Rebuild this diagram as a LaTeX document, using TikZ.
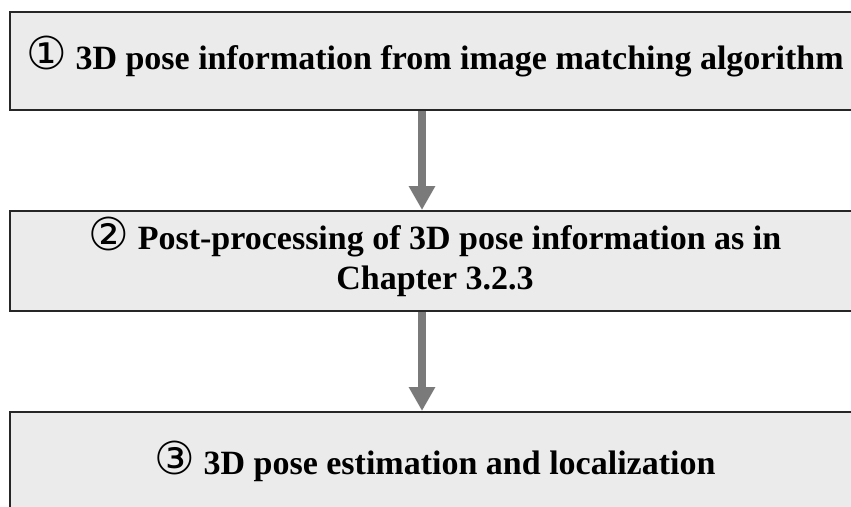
\documentclass[tikz,border=0pt]{standalone}
\usepackage{fontspec}
\setmainfont{Liberation Serif}
\newfontfamily\circfont{DejaVu Sans}
\usetikzlibrary{arrows.meta}
\newcommand\cnum[1]{\smash{\circfont\mdseries\fontsize{34}{28}\selectfont\raisebox{-0.5pt}{#1}}}
\tikzset{
  stagebox/.style={draw=black!85, line width=1.5pt, fill=black!8, rectangle,
    minimum width=637.5pt, align=center, inner sep=0pt,
    font=\fontsize{25.5}{28.5}\selectfont\bfseries},
  flowarrow/.style={draw=black!52, line width=5.5pt,
    -{Triangle[width=18.75pt,length=18pt]}, shorten >=0pt}
}
\begin{document}
\begin{tikzpicture}[x=0.75pt,y=-0.75pt]
\useasboundingbox (0,0) rectangle (851,507);
\clip (0,0) rectangle (851,507);
\fill[white] (0,0) rectangle (851,507);
\node[stagebox, minimum height=73.5pt] (b1) at (435,61)
  {\cnum{①} 3D pose information from image matching algorithm};
\node[stagebox, minimum height=75pt] (b2) at (435,261)
  {\cnum{②} Post-processing of 3D pose information as in\\[1.5pt]Chapter 3.2.3};
\node[stagebox, minimum height=81pt] (b3) at (435,466)
  {\cnum{③} 3D pose estimation and localization};
\draw[flowarrow] ([xshift=-9.75pt]b1.south) -- ([xshift=-9.75pt]b2.north);
\draw[flowarrow] ([xshift=-9.75pt]b2.south) -- ([xshift=-9.75pt]b3.north);
\end{tikzpicture}
\end{document}
